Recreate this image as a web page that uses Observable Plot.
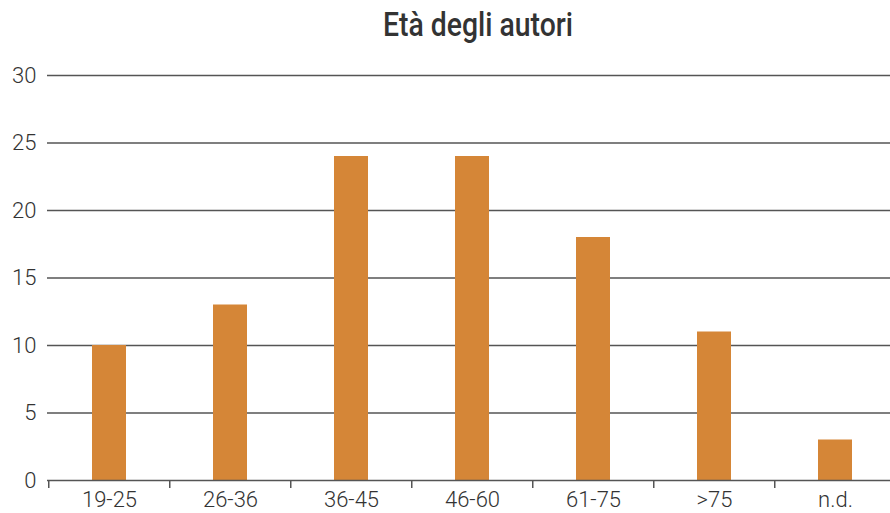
<!DOCTYPE html>
<html>
<head>
<meta charset="utf-8">
<script src="https://cdn.jsdelivr.net/npm/d3@7"></script>
<script src="https://cdn.jsdelivr.net/npm/@observablehq/plot@0.6"></script>
<style>
  html, body { margin: 0; padding: 0; background: #fff; }
  #wrap { position: relative; width: 890px; height: 513px; overflow: hidden; }
  #title { position: absolute; top: 8px; left: 478px; white-space: nowrap; line-height: 1;
    font-family: Roboto, "DejaVu Sans", sans-serif; font-weight: 500; font-size: 33px; color: #333; transform-origin: 0 0; }
  #chart { position: absolute; top: 55px; left: 0; }
</style>
</head>
<body>
<div id="wrap">
  <div id="title">Età degli autori</div>
  <div id="chart"></div>
</div>
<script>
const categories = ["19-25", "26-36", "36-45", "46-60", "61-75", ">75", "n.d."];
const counts = [10, 13, 24, 24, 18, 11, 3];
const yTicks = [0, 5, 10, 15, 20, 25, 30];

const data = categories.map((c, i) => ({category: c, count: counts[i]}));
const step = (897.5 - 47) / categories.length;

const chart = Plot.plot({
  width: 890,
  height: 458,
  marginTop: 20,
  marginBottom: 33,
  marginLeft: 47,
  marginRight: 0,
  style: {fontFamily: "Roboto, 'Liberation Sans', sans-serif", fontSize: "22px", fontWeight: 300, color: "#333", background: "#fff"},
  x: {domain: categories, range: [47, 897.5], paddingInner: 0.72, paddingOuter: 0.36, align: 0.5},
  y: {domain: [0, 30], ticks: yTicks},
  marks: [
    Plot.ruleY(yTicks.filter(d => d > 0), {stroke: "#555", strokeWidth: 1.5}),
    Plot.barY(data, {x: "category", y: "count", fill: "#d58637"}),
    Plot.ruleY([0], {stroke: "#555", strokeWidth: 1.5}),
    Plot.axisY({ticks: yTicks, tickSize: 0, tickPadding: 11, label: null, fill: "#333"}),
    Plot.axisX({tickSize: 8, tickFormat: () => "", dx: -step / 2, stroke: "#555", strokeWidth: 1.5, label: null}),
    Plot.axisX({tickSize: 0, tickPadding: 11, label: null, fill: "#333"})
  ]
});
document.getElementById("chart").appendChild(chart);

// condense the title to the reference's width, centred on the same point
const title = document.getElementById("title");
const w = title.getBoundingClientRect().width;
const s = 190 / w;
title.style.transform = `translateX(${-95}px) scaleX(${s})`;
</script>
</body>
</html>
